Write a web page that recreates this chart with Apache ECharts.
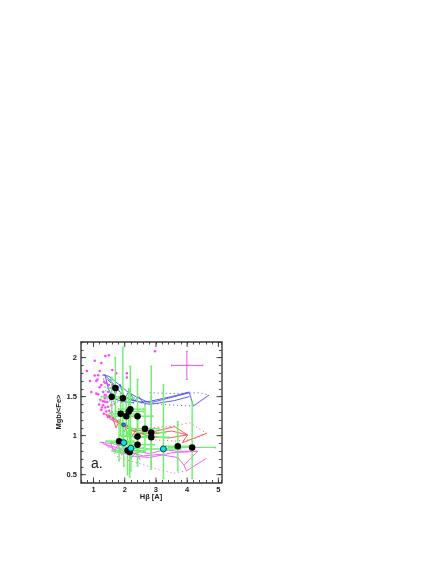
<!DOCTYPE html>
<html>
<head>
<meta charset="utf-8">
<style>
  html, body { margin: 0; padding: 0; background: #fff; }
  #chart { width: 436px; height: 564px; }
</style>
<script src="https://cdn.jsdelivr.net/npm/echarts@6/dist/echarts.min.js"></script>
</head>
<body>
<div id="chart"></div>
<script>
// tick labels
const xTickLabels = [1, 2, 3, 4, 5];
const yTickLabels = [0.5, 1, 1.5, 2];

// magenta comparison sample
const starPoints = [
  [1.38,2.02],[1.49,2.03],[1.04,1.96],[1.25,1.93],[0.79,1.83],[1.20,1.83],[1.04,1.77],[1.15,1.775],
  [0.89,1.70],[1.09,1.70],[1.13,1.72],[1.34,1.69],[1.25,1.65],[1.41,1.67],[1.49,1.65],[2.07,1.80],
  [2.07,1.745],[0.93,1.56],[1.09,1.54],[1.36,1.52],[1.47,1.56],[1.57,1.61],[1.31,1.56],[1.15,1.53],
  [1.73,1.80],[1.60,1.84],[1.36,1.435],[1.25,1.33],[1.41,1.31],[1.31,1.39],[1.47,1.37],[1.63,1.22],
  [1.52,1.245],[1.36,1.48],[1.57,1.39],[1.41,1.50],[1.68,1.41],[2.97,2.08],
  [1.22,1.46],[1.30,1.44],[1.18,1.40],[1.44,1.43],[1.27,1.36],[1.38,1.36],[1.50,1.32],[1.20,1.62],
  [1.55,1.47],[1.33,1.28],[1.46,1.24],[1.58,1.30]
];

// measured galaxies: x, y, xLow, xHigh, yLow, yHigh
const blackPoints = [
  [1.70,1.61,1.45,1.95,1.22,2.00],[1.585,1.50,1.25,2.00,1.25,1.75],[1.94,1.48,1.60,2.30,0.85,2.13],
  [2.18,1.34,1.80,2.60,0.80,1.89],[2.13,1.31,1.70,2.60,1.00,1.60],[1.87,1.28,1.50,2.30,1.00,1.55],
  [2.05,1.25,1.60,2.50,1.00,1.50],[2.41,1.25,1.90,2.90,0.80,1.72],[2.65,1.09,2.20,3.10,0.80,1.40],
  [2.85,1.04,2.40,3.30,0.57,1.89],[2.85,0.98,2.30,3.40,0.60,1.50],[2.41,0.99,1.90,2.90,0.65,1.30],
  [2.41,0.885,1.85,2.95,0.61,1.20],[1.82,0.93,1.40,2.30,0.68,1.20],[2.09,0.81,1.60,2.60,0.50,1.05],
  [2.16,0.79,1.70,2.60,0.47,1.10],[3.70,0.865,3.20,4.20,0.55,1.18],[4.16,0.85,3.40,4.90,0.45,1.44]
];
const cyanPoints = [
  [1.97,0.91,1.55,2.40,0.61,1.15],[2.20,0.84,1.80,2.60,0.55,1.10],[3.24,0.83,2.70,3.80,0.45,1.65]
];
const smallBluePoint = [[1.97,1.14]];

// typical error cross, top right
const crossPoint = [[3.99,1.90,3.50,4.50,1.72,2.08]];

// model grids
const blueLine1 = [[1.30,1.78],[1.50,1.76],[1.80,1.66],[2.10,1.56],[2.40,1.49],[2.80,1.42],[3.40,1.48],[4.07,1.55],[4.20,1.38],[4.70,1.52]];
const blueLine2 = [[1.45,1.72],[1.70,1.62],[1.95,1.52],[2.20,1.46],[2.80,1.40],[3.60,1.45],[4.07,1.50]];
const blueLine3 = [[1.40,1.76],[1.60,1.68],[1.85,1.56],[2.10,1.47],[2.50,1.43],[2.80,1.44],[3.50,1.50],[4.07,1.56]];
const blueLine4 = [[1.36,1.79],[1.48,1.60],[1.62,1.48],[1.90,1.44],[2.30,1.42]];
const blueZig = [[1.55,1.73],[1.70,1.53],[1.85,1.66],[2.00,1.47],[2.15,1.58],[2.30,1.44],[2.45,1.50],[2.60,1.42]];
const blueDots = [[2.80,1.55],[3.50,1.54],[4.40,1.55],[4.70,1.52]];
const blueDots2 = [[1.30,1.78],[1.45,1.45],[2.00,1.42],[2.80,1.42],[3.20,1.40],[4.15,1.38]];

const redLine1 = [[1.30,1.29],[1.60,1.24],[2.00,1.13],[2.40,1.07],[2.80,1.04],[3.60,1.115],[4.01,1.01],[3.85,0.91],[4.62,1.03]];
const redLine2 = [[1.50,1.22],[1.80,1.16],[2.20,1.07],[2.80,0.99],[3.40,0.97],[4.01,1.01]];
const redLine3 = [[1.40,1.26],[1.70,1.20],[2.10,1.09],[2.50,1.03],[2.90,1.02],[3.50,1.06],[4.01,1.01]];
const redZig = [[1.60,1.25],[1.72,1.10],[1.85,1.20],[1.98,1.05],[2.10,1.14],[2.25,1.00],[2.38,1.08],[2.50,0.98]];
const redDots = [[2.80,1.10],[3.50,1.12],[4.08,1.165],[4.62,1.03],[4.17,0.95],[3.60,0.93],[2.80,0.95]];

const magentaLine1 = [[1.20,0.915],[1.60,0.90],[2.00,0.86],[2.40,0.80],[2.80,0.77],[3.28,0.82],[3.70,0.80],[4.33,0.80],[3.90,0.62],[3.98,0.55],[4.62,0.71]];
const magentaLine2 = [[1.40,0.88],[1.80,0.80],[2.20,0.74],[2.80,0.72],[3.50,0.78],[4.33,0.80]];
const magentaLine3 = [[1.30,0.90],[1.70,0.85],[2.10,0.79],[2.60,0.74],[3.10,0.76],[3.70,0.72],[3.90,0.62]];
const magentaZig = [[1.55,0.91],[1.65,0.79],[1.78,0.88],[1.90,0.75],[2.05,0.84],[2.20,0.71],[2.35,0.78],[2.50,0.69]];
const magentaDots = [[1.30,0.92],[1.80,0.72],[2.50,0.64],[3.12,0.56],[3.60,0.52],[3.98,0.55]];

const BLUE = '#4c4cf0';
const RED = '#f04c4c';
const MAGENTA = '#f055f0';
const GREEN = '#6cf06c';
const FRAME = '#666';
const INK = '#222';

const modelLine = (data, color, dotted) => ({
  type: 'line',
  data,
  symbol: 'none',
  silent: true,
  z: 2,
  lineStyle: { color, width: dotted ? 1 : 0.9, type: dotted ? [1, 3] : 'solid' }
});

const errorBars = (data, color, width, z) => ({
  type: 'custom',
  data,
  z,
  silent: true,
  encode: { x: 0, y: 1 },
  renderItem: (params, api) => {
    const x = api.value(0);
    const y = api.value(1);
    const left = api.coord([api.value(2), y]);
    const right = api.coord([api.value(3), y]);
    const low = api.coord([x, api.value(4)]);
    const high = api.coord([x, api.value(5)]);
    const style = { stroke: color, lineWidth: width, fill: null };
    const seg = (a, b) => ({ type: 'line', shape: { x1: a[0], y1: a[1], x2: b[0], y2: b[1] }, style });
    return {
      type: 'group',
      children: [
        seg(left, right), seg(low, high),
        seg([left[0], left[1] - 1], [left[0], left[1] + 1]),
        seg([right[0], right[1] - 1], [right[0], right[1] + 1]),
        seg([low[0] - 1, low[1]], [low[0] + 1, low[1]]),
        seg([high[0] - 1, high[1]], [high[0] + 1, high[1]])
      ]
    };
  }
});

// long ticks on both sides of the frame, the axes only carry the short ones
const majorTicks = (data, isX) => ({
  type: 'custom',
  data: data.map(v => [v]),
  z: 8,
  silent: true,
  clip: false,
  encode: isX ? { x: 0 } : { y: 0 },
  renderItem: (params, api) => {
    const v = api.value(0);
    const a = api.coord(isX ? [v, 0.4] : [0.6, v]);
    const b = api.coord(isX ? [v, 2.2] : [5.1, v]);
    const style = { stroke: '#333', lineWidth: 0.9 };
    const seg = (x1, y1, x2, y2) => ({ type: 'line', shape: { x1, y1, x2, y2 }, style });
    return {
      type: 'group',
      children: isX
        ? [seg(a[0], a[1], a[0], a[1] - 5), seg(b[0], b[1], b[0], b[1] + 5)]
        : [seg(a[0], a[1], a[0] + 5, a[1]), seg(b[0], b[1], b[0] - 5, b[1])]
    };
  }
});

const axisBase = {
  type: 'value',
  axisLine: { show: true, onZero: false, lineStyle: { color: FRAME, width: 1.8 } },
  axisTick: { show: true, inside: true, length: 2.5, lineStyle: { color: '#333', width: 0.9 } },
  minorTick: { show: false },
  splitLine: { show: false },
  minorSplitLine: { show: false }
};
const labelStyle = { color: INK, fontSize: 7.5, fontFamily: 'Liberation Sans', fontWeight: 'bold' };
const isTick = (list, v) => list.some(t => Math.abs(t - v) < 1e-6);

const chart = echarts.init(document.getElementById('chart'), null, { renderer: 'canvas' });
chart.setOption({
  animation: false,
  backgroundColor: '#fff',
  grid: { left: 81, right: 214.5, top: 342, bottom: 81.5 },
  xAxis: [
    { ...axisBase, min: 0.6, max: 5.1, interval: 0.2, position: 'bottom',
      axisLabel: { ...labelStyle, margin: 3, interval: 0, hideOverlap: false,
        formatter: v => (isTick(xTickLabels, v) ? String(Math.round(v)) : '') } },
    { ...axisBase, min: 0.6, max: 5.1, interval: 0.2, position: 'top', axisLabel: { show: false } }
  ],
  yAxis: [
    { ...axisBase, min: 0.4, max: 2.2, interval: 0.1, position: 'left',
      axisLabel: { ...labelStyle, margin: 4, interval: 0, hideOverlap: false,
        formatter: v => (isTick(yTickLabels, v) ? String(Math.round(v * 10) / 10) : '') } },
    { ...axisBase, min: 0.4, max: 2.2, interval: 0.1, position: 'right', axisLabel: { show: false } }
  ],
  graphic: [
    { type: 'text', x: 91, y: 457, style: { text: 'a.', font: '14px "Liberation Sans"', fill: INK } },
    { type: 'text', x: 151, y: 497, style: { text: 'Hβ [A]', font: 'bold 7.5px "Liberation Sans"', fill: INK, align: 'center', verticalAlign: 'middle' } },
    { type: 'text', x: 59, y: 412, rotation: Math.PI / 2, style: { text: 'Mgb/<Fe>', font: 'bold 7.5px "Liberation Sans"', fill: INK, align: 'center', verticalAlign: 'middle' } }
  ],
  series: [
    modelLine(blueLine1, BLUE), modelLine(blueLine2, BLUE), modelLine(blueLine3, BLUE), modelLine(blueLine4, BLUE), modelLine(blueZig, BLUE),
    modelLine(blueDots, BLUE, true), modelLine(blueDots2, BLUE, true),
    modelLine(redLine1, RED), modelLine(redLine2, RED), modelLine(redLine3, RED), modelLine(redZig, RED), modelLine(redDots, RED, true),
    modelLine(magentaLine1, MAGENTA), modelLine(magentaLine2, MAGENTA), modelLine(magentaLine3, MAGENTA), modelLine(magentaZig, MAGENTA), modelLine(magentaDots, MAGENTA, true),
    { type: 'scatter', data: starPoints, symbolSize: 2.5, z: 3, itemStyle: { color: '#ff40ff', opacity: 1 } },
    errorBars(blackPoints, GREEN, 1.4, 4),
    errorBars(cyanPoints, GREEN, 1.4, 4),
    errorBars(crossPoint, MAGENTA, 1, 4),
    { type: 'scatter', data: blackPoints.map(p => [p[0], p[1]]), symbolSize: 6.5, z: 5, itemStyle: { color: '#000', opacity: 1 } },
    { type: 'scatter', data: cyanPoints.map(p => [p[0], p[1]]), symbolSize: 6, z: 6, itemStyle: { color: '#10e0e0', borderColor: '#113', borderWidth: 0.8, opacity: 1 } },
    { type: 'scatter', data: smallBluePoint, symbolSize: 4, z: 6, itemStyle: { color: '#2080e0', borderColor: '#113', borderWidth: 0.5, opacity: 1 } },
    majorTicks(xTickLabels, true),
    majorTicks(yTickLabels, false)
  ]
});
</script>
</body>
</html>
